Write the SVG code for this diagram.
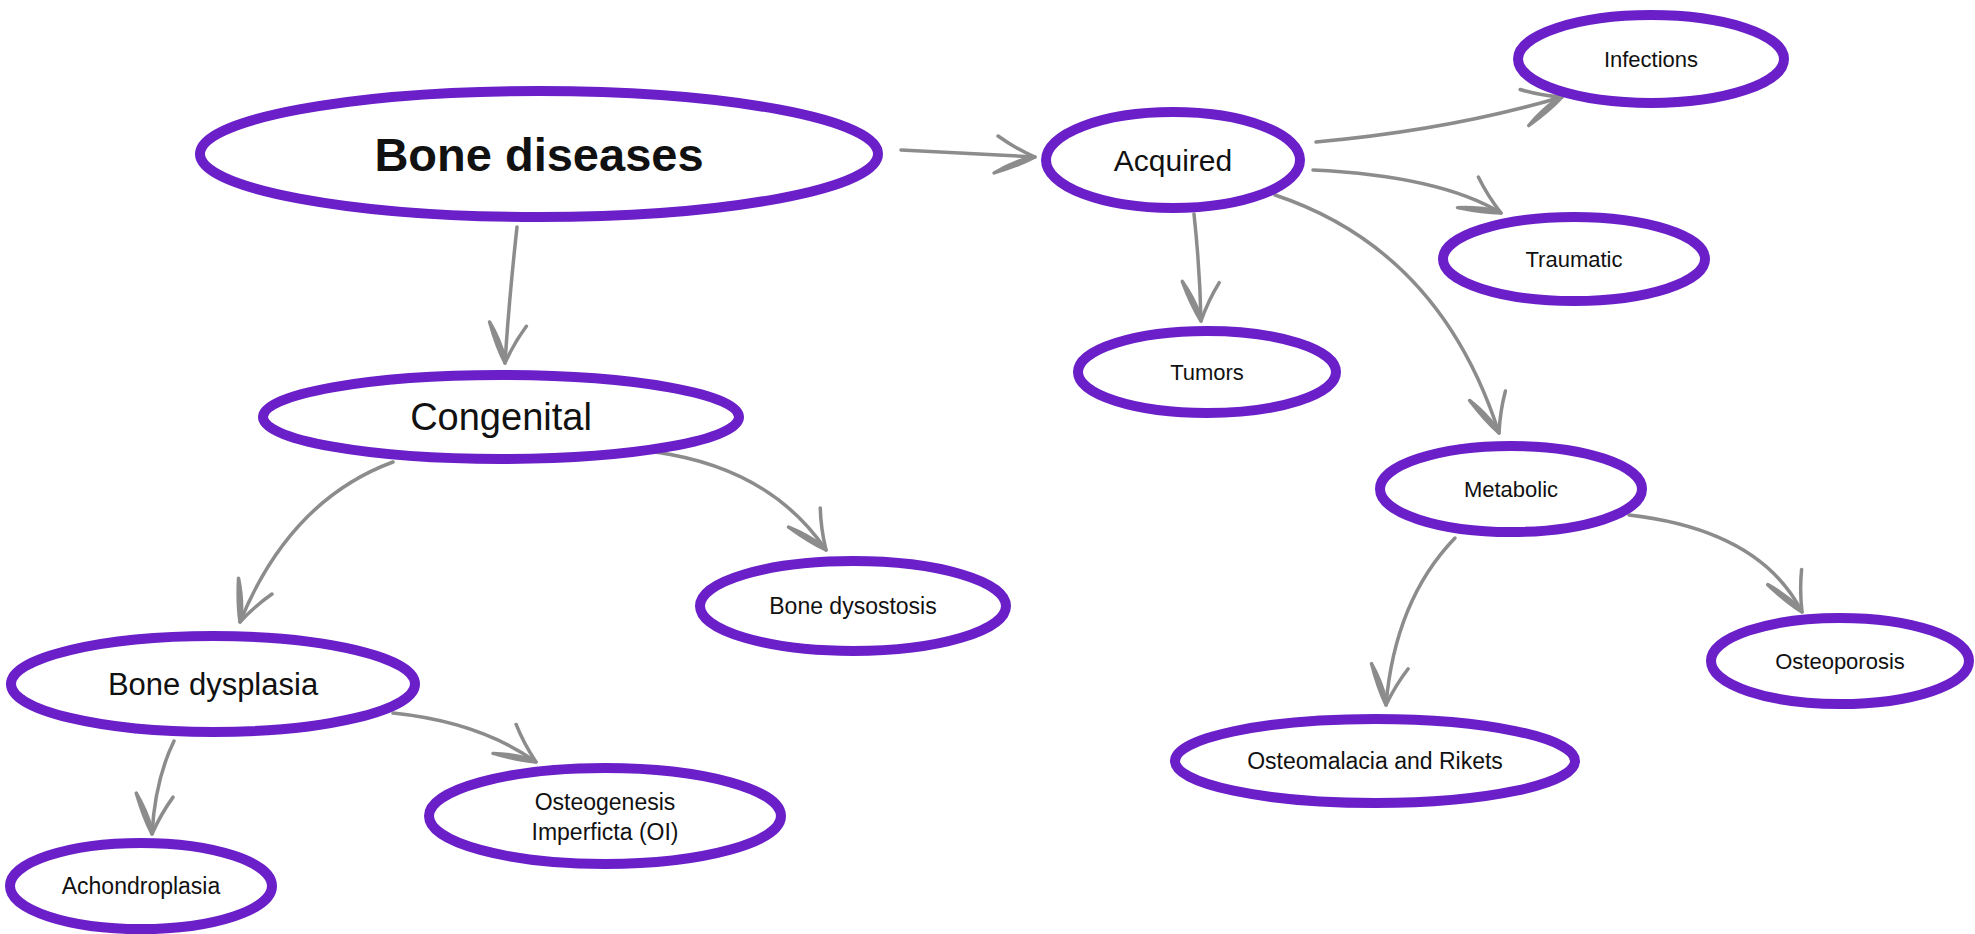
<svg xmlns="http://www.w3.org/2000/svg" width="1975" height="934" viewBox="0 0 1975 934">
<defs>
<style>
.node ellipse{fill:#fff;stroke:#6a1fc8;stroke-width:10}
.node text{font-family:"Liberation Sans",Arial,sans-serif;fill:#111;text-anchor:middle;dominant-baseline:central}
.edge{fill:none;stroke:#8c8c8c;stroke-width:3.5;stroke-linecap:round}
.t{font-size:22px}
</style>
<marker id="arr" markerUnits="userSpaceOnUse" markerWidth="70" markerHeight="70" refX="0" refY="0" viewBox="-50 -35 60 70" orient="auto" overflow="visible">
<path d="M-38,-19 C-24,-10 -8,-3 0,0 C-10,6 -26,13 -40,18 C-28,10 -15,4 -6,1" fill="none" stroke="#8c8c8c" stroke-width="3.5" stroke-linecap="round" stroke-linejoin="round"/>
</marker>
</defs>
<rect width="1975" height="934" fill="#fff"/>
<g id="connectors">
<path class="edge" d="M901,150 L1035,157" marker-end="url(#arr)"/>
<path class="edge" d="M517,227 Q509,300 505,363" marker-end="url(#arr)"/>
<path class="edge" d="M393,462 Q290,500 240,622" marker-end="url(#arr)"/>
<path class="edge" d="M655,452 Q770,468 826,550" marker-end="url(#arr)"/>
<path class="edge" d="M174,741 Q155,780 152,834" marker-end="url(#arr)"/>
<path class="edge" d="M393,713 Q480,722 536,762" marker-end="url(#arr)"/>
<path class="edge" d="M1316,142 Q1450,130 1562,97" marker-end="url(#arr)"/>
<path class="edge" d="M1313,170 Q1440,176 1501,213" marker-end="url(#arr)"/>
<path class="edge" d="M1194,214 Q1200,270 1201,321" marker-end="url(#arr)"/>
<path class="edge" d="M1275,195 Q1440,250 1499,433" marker-end="url(#arr)"/>
<path class="edge" d="M1455,538 Q1395,600 1386,705" marker-end="url(#arr)"/>
<path class="edge" d="M1629,515 Q1760,530 1802,612" marker-end="url(#arr)"/>
</g>
<g id="bone-diseases" class="node"><ellipse cx="539" cy="154" rx="339" ry="63"/><text x="539" y="154" style="font-size:47px;font-weight:bold">Bone diseases</text></g>
<g id="acquired" class="node"><ellipse cx="1173" cy="160" rx="127" ry="48"/><text x="1173" y="160" style="font-size:30px">Acquired</text></g>
<g id="infections" class="node"><ellipse cx="1651" cy="59" rx="133" ry="44"/><text x="1651" y="59" class="t">Infections</text></g>
<g id="traumatic" class="node"><ellipse cx="1574" cy="259" rx="131" ry="42"/><text x="1574" y="259" class="t">Traumatic</text></g>
<g id="tumors" class="node"><ellipse cx="1207" cy="372" rx="129" ry="41"/><text x="1207" y="372" class="t">Tumors</text></g>
<g id="metabolic" class="node"><ellipse cx="1511" cy="489" rx="131" ry="43"/><text x="1511" y="489" class="t">Metabolic</text></g>
<g id="osteoporosis" class="node"><ellipse cx="1840" cy="661" rx="129" ry="43"/><text x="1840" y="661" class="t">Osteoporosis</text></g>
<g id="osteomalacia" class="node"><ellipse cx="1375" cy="761" rx="200" ry="42"/><text x="1375" y="761" style="font-size:23px">Osteomalacia and Rikets</text></g>
<g id="congenital" class="node"><ellipse cx="501" cy="417" rx="238" ry="42"/><text x="501" y="417" style="font-size:38px">Congenital</text></g>
<g id="bone-dysostosis" class="node"><ellipse cx="853" cy="606" rx="153" ry="45"/><text x="853" y="606" style="font-size:23px">Bone dysostosis</text></g>
<g id="bone-dysplasia" class="node"><ellipse cx="213" cy="684" rx="202" ry="48"/><text x="213" y="684" style="font-size:31px">Bone dysplasia</text></g>
<g id="achondroplasia" class="node"><ellipse cx="141" cy="886" rx="131" ry="43"/><text x="141" y="886" style="font-size:23px">Achondroplasia</text></g>
<g id="osteogenesis" class="node"><ellipse cx="605" cy="816" rx="176" ry="48"/><text x="605" y="816" style="font-size:23px"><tspan x="605" dy="-14">Osteogenesis</tspan><tspan x="605" dy="30">Imperficta (OI)</tspan></text></g>
</svg>
